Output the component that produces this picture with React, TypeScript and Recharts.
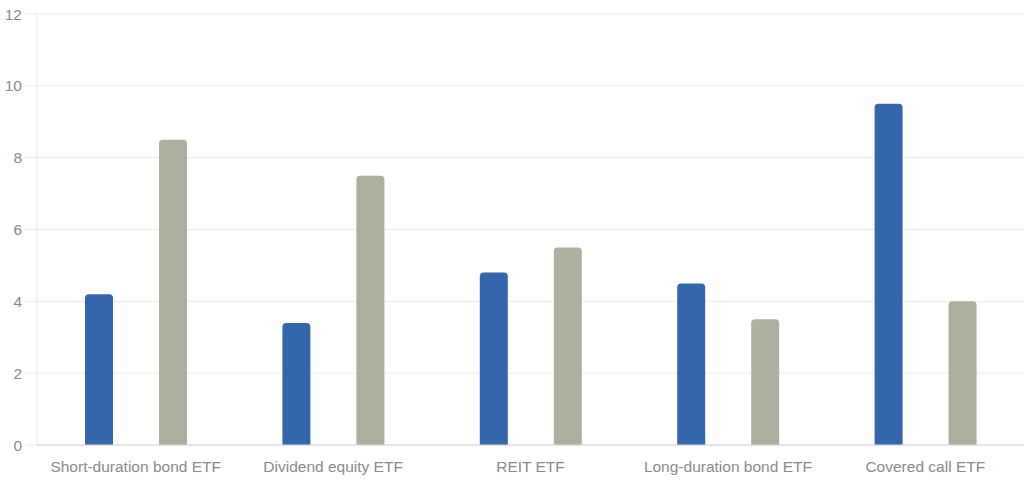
import { BarChart, Bar, XAxis, YAxis, CartesianGrid } from "recharts";

const categories = [
  "Short-duration bond ETF",
  "Dividend equity ETF",
  "REIT ETF",
  "Long-duration bond ETF",
  "Covered call ETF",
];
const seriesA = [4.2, 3.4, 4.8, 4.5, 9.5];
const seriesB = [8.5, 7.5, 5.5, 3.5, 4.0];
const yTicks = [0, 2, 4, 6, 8, 10, 12];

const data = categories.map((name, i) => ({ name, a: seriesA[i], b: seriesB[i] }));

const tickStyle = { fill: "#8a8a8a", fontSize: 15.5, fontFamily: "Liberation Sans, Arial, sans-serif" };

export default function App() {
  return (
    <div style={{ position: "absolute", left: 0, top: 0, background: "#fff" }}>
      <BarChart
        width={1024}
        height={483}
        data={data}
        margin={{ top: 14, right: 0, bottom: 8, left: 0 }}
        barSize={28}
        barGap={46}
      >
        <CartesianGrid vertical={false} stroke="#ebebeb" />
        <XAxis
          dataKey="name"
          tick={tickStyle}
          tickLine={false}
          tickSize={0}
          tickMargin={16}
          axisLine={{ stroke: "#d6d6d6" }}
          height={30}
          interval={0}
        />
        <YAxis
          domain={[0, 12]}
          ticks={yTicks}
          tick={tickStyle}
          tickLine={{ stroke: "#ebebeb" }}
          tickSize={12}
          tickMargin={3}
          axisLine={{ stroke: "#ebebeb" }}
          width={37}
        />
        <Bar dataKey="a" fill="#3366ab" radius={[4, 4, 0, 0]} isAnimationActive={false} />
        <Bar dataKey="b" fill="#aeaf9e" radius={[4, 4, 0, 0]} isAnimationActive={false} />
      </BarChart>
    </div>
  );
}
